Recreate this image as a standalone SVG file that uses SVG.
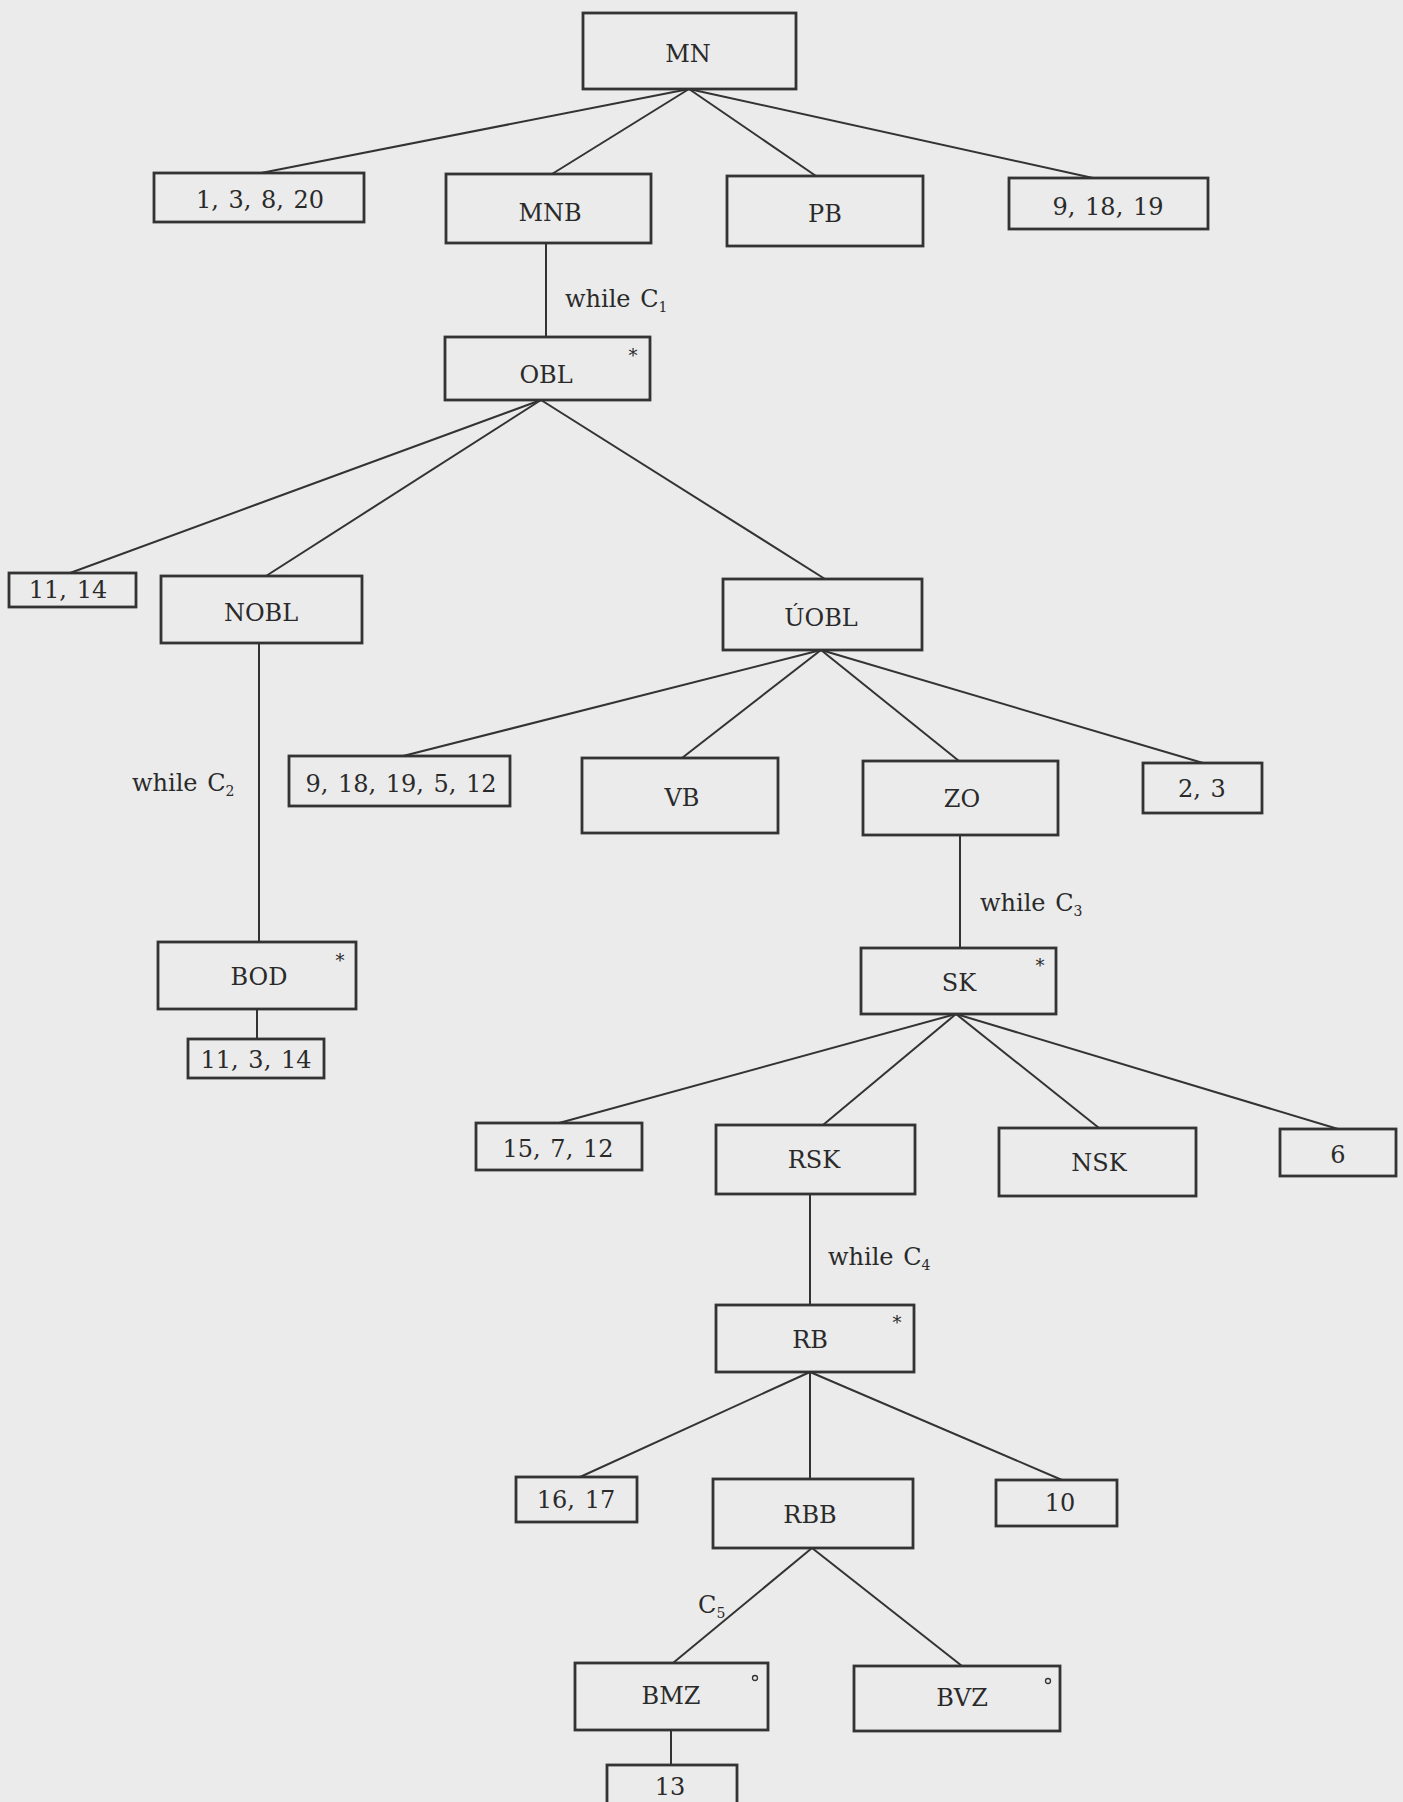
<svg xmlns="http://www.w3.org/2000/svg" width="1403" height="1802" viewBox="0 0 1403 1802">
<style>
.bg{fill:#ebebeb}
.box{fill:none;stroke:#333;stroke-width:2.8}
.edge{fill:none;stroke:#333;stroke-width:2}
text{font-family:"DejaVu Serif","Liberation Serif",serif;fill:#2a2a2a}
.lbl{font-size:24px;text-anchor:middle;word-spacing:2px}
.ann{font-size:24px;word-spacing:2px}
.sub{font-size:14px}
.mark{font-size:18px;text-anchor:middle}
.ring{fill:none;stroke:#333;stroke-width:1.3}
</style>
<rect class="bg" x="0" y="0" width="1403" height="1802"/>
<g id="connectors">
<line class="edge" x1="689" y1="89" x2="261" y2="173"/>
<line class="edge" x1="689" y1="89" x2="552" y2="174"/>
<line class="edge" x1="689" y1="89" x2="816" y2="176"/>
<line class="edge" x1="689" y1="89" x2="1093" y2="178"/>
<line class="edge" x1="546" y1="243" x2="546" y2="337"/>
<line class="edge" x1="541" y1="400" x2="70" y2="573"/>
<line class="edge" x1="541" y1="400" x2="266" y2="576"/>
<line class="edge" x1="541" y1="400" x2="825" y2="579"/>
<line class="edge" x1="259" y1="643" x2="259" y2="942"/>
<line class="edge" x1="821" y1="650" x2="403" y2="756"/>
<line class="edge" x1="821" y1="650" x2="682" y2="758"/>
<line class="edge" x1="821" y1="650" x2="959" y2="761"/>
<line class="edge" x1="821" y1="650" x2="1203" y2="763"/>
<line class="edge" x1="960" y1="835" x2="960" y2="948"/>
<line class="edge" x1="257" y1="1009" x2="257" y2="1039"/>
<line class="edge" x1="956" y1="1014" x2="559" y2="1123"/>
<line class="edge" x1="956" y1="1014" x2="823" y2="1125"/>
<line class="edge" x1="956" y1="1014" x2="1099" y2="1128"/>
<line class="edge" x1="956" y1="1014" x2="1338" y2="1129"/>
<line class="edge" x1="810" y1="1194" x2="810" y2="1305"/>
<line class="edge" x1="810" y1="1372" x2="580" y2="1477"/>
<line class="edge" x1="810" y1="1372" x2="810" y2="1479"/>
<line class="edge" x1="810" y1="1372" x2="1062" y2="1480"/>
<line class="edge" x1="812" y1="1548" x2="673" y2="1663"/>
<line class="edge" x1="812" y1="1548" x2="962" y2="1666"/>
<line class="edge" x1="671" y1="1729" x2="671" y2="1765"/>
<text class="ann" x="565" y="307">while C<tspan class="sub" dy="5">1</tspan></text>
<text class="ann" x="132" y="791">while C<tspan class="sub" dy="5">2</tspan></text>
<text class="ann" x="980" y="911">while C<tspan class="sub" dy="5">3</tspan></text>
<text class="ann" x="828" y="1265">while C<tspan class="sub" dy="5">4</tspan></text>
<text class="ann" x="698" y="1613">C<tspan class="sub" dy="5">5</tspan></text>
</g>
<g id="MN"><rect class="box" x="583" y="13" width="213" height="76"/><text class="lbl" x="688" y="62">MN</text></g>
<g id="n1_3_8_20"><rect class="box" x="154" y="173" width="210" height="49"/><text class="lbl" x="260" y="208">1, 3, 8, 20</text></g>
<g id="MNB"><rect class="box" x="446" y="174" width="205" height="69"/><text class="lbl" x="550" y="221">MNB</text></g>
<g id="PB"><rect class="box" x="727" y="176" width="196" height="70"/><text class="lbl" x="825" y="222">PB</text></g>
<g id="n9_18_19"><rect class="box" x="1009" y="178" width="199" height="51"/><text class="lbl" x="1108" y="215">9, 18, 19</text></g>
<g id="OBL"><rect class="box" x="445" y="337" width="205" height="63"/><text class="lbl" x="546" y="383">OBL</text><text class="mark" x="633" y="362">*</text></g>
<g id="n11_14"><rect class="box" x="9" y="573" width="127" height="34"/><text class="lbl" x="68" y="598">11, 14</text></g>
<g id="NOBL"><rect class="box" x="161" y="576" width="201" height="67"/><text class="lbl" x="261" y="621">NOBL</text></g>
<g id="UOBL"><rect class="box" x="723" y="579" width="199" height="71"/><text class="lbl" x="821" y="626">ÚOBL</text></g>
<g id="n9_18_19_5_12"><rect class="box" x="289" y="756" width="221" height="50"/><text class="lbl" x="401" y="792">9, 18, 19, 5, 12</text></g>
<g id="VB"><rect class="box" x="582" y="758" width="196" height="75"/><text class="lbl" x="682" y="806">VB</text></g>
<g id="ZO"><rect class="box" x="863" y="761" width="195" height="74"/><text class="lbl" x="962" y="807">ZO</text></g>
<g id="n2_3"><rect class="box" x="1143" y="763" width="119" height="50"/><text class="lbl" x="1202" y="797">2, 3</text></g>
<g id="BOD"><rect class="box" x="158" y="942" width="198" height="67"/><text class="lbl" x="259" y="985">BOD</text><text class="mark" x="340" y="967">*</text></g>
<g id="n11_3_14"><rect class="box" x="188" y="1039" width="136" height="39"/><text class="lbl" x="256" y="1068">11, 3, 14</text></g>
<g id="SK"><rect class="box" x="861" y="948" width="195" height="66"/><text class="lbl" x="959" y="991">SK</text><text class="mark" x="1040" y="972">*</text></g>
<g id="n15_7_12"><rect class="box" x="476" y="1123" width="166" height="47"/><text class="lbl" x="558" y="1157">15, 7, 12</text></g>
<g id="RSK"><rect class="box" x="716" y="1125" width="199" height="69"/><text class="lbl" x="814" y="1168">RSK</text></g>
<g id="NSK"><rect class="box" x="999" y="1128" width="197" height="68"/><text class="lbl" x="1099" y="1171">NSK</text></g>
<g id="n6"><rect class="box" x="1280" y="1129" width="116" height="47"/><text class="lbl" x="1338" y="1163">6</text></g>
<g id="RB"><rect class="box" x="716" y="1305" width="198" height="67"/><text class="lbl" x="810" y="1348">RB</text><text class="mark" x="897" y="1329">*</text></g>
<g id="n16_17"><rect class="box" x="516" y="1477" width="121" height="45"/><text class="lbl" x="576" y="1508">16, 17</text></g>
<g id="RBB"><rect class="box" x="713" y="1479" width="200" height="69"/><text class="lbl" x="810" y="1523">RBB</text></g>
<g id="n10"><rect class="box" x="996" y="1480" width="121" height="46"/><text class="lbl" x="1060" y="1511">10</text></g>
<g id="BMZ"><rect class="box" x="575" y="1663" width="193" height="67"/><text class="lbl" x="671" y="1704">BMZ</text><circle class="ring" cx="755" cy="1678" r="2.5"/></g>
<g id="BVZ"><rect class="box" x="854" y="1666" width="206" height="65"/><text class="lbl" x="962" y="1706">BVZ</text><circle class="ring" cx="1048" cy="1681" r="2.5"/></g>
<g id="n13"><rect class="box" x="607" y="1765" width="130" height="40"/><text class="lbl" x="670" y="1795">13</text></g>
</svg>
